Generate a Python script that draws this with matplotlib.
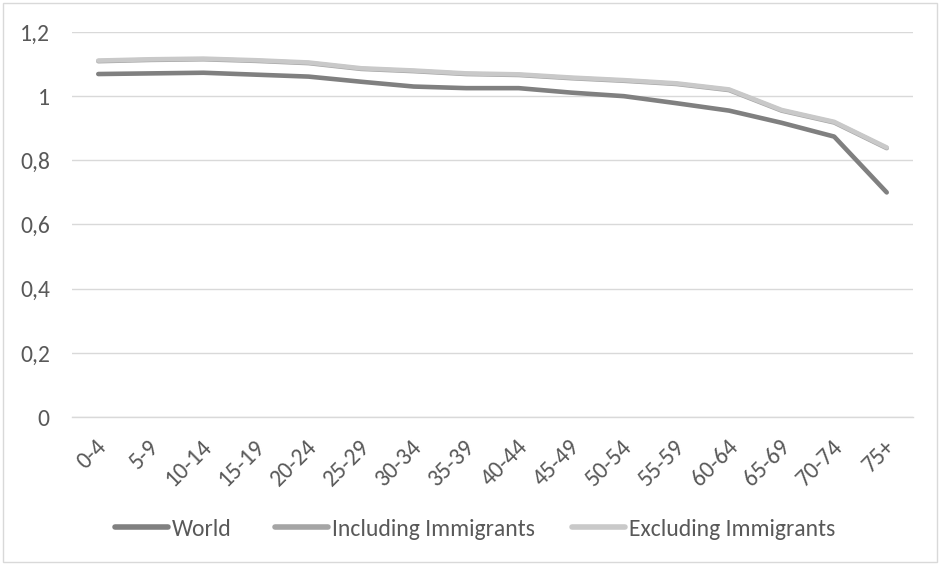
import matplotlib
matplotlib.use("Agg")
import matplotlib.pyplot as plt
from matplotlib.patches import Rectangle
from matplotlib.transforms import ScaledTranslation

plt.rcParams['font.family'] = ['Carlito', 'DejaVu Sans']

ages = ['0-4', '5-9', '10-14', '15-19', '20-24', '25-29', '30-34', '35-39',
        '40-44', '45-49', '50-54', '55-59', '60-64', '65-69', '70-74', '75+']
world = [1.069, 1.071, 1.073, 1.067, 1.061, 1.045, 1.030, 1.025,
         1.025, 1.011, 1.000, 0.978, 0.955, 0.917, 0.874, 0.700]
incl = [1.109, 1.113, 1.115, 1.110, 1.103, 1.085, 1.078, 1.069,
        1.066, 1.056, 1.048, 1.038, 1.019, 0.955, 0.918, 0.838]
excl = [1.111, 1.115, 1.117, 1.112, 1.105, 1.087, 1.080, 1.071,
        1.068, 1.058, 1.050, 1.040, 1.021, 0.957, 0.920, 0.840]
yticks = [0, 0.2, 0.4, 0.6, 0.8, 1.0, 1.2]
ylabels = ['0', '0,2', '0,4', '0,6', '0,8', '1', '1,2']

fs = 17
txt = '#595959'

fig = plt.figure(figsize=(9.4, 5.65), dpi=100)
ax = fig.add_axes([72/940, 148/565, 841/940, 385/565])

x = range(len(ages))
l1, = ax.plot(x, world, color='#808080', lw=3.3, solid_capstyle='round', label='World')
l2, = ax.plot(x, incl, color='#a5a5a5', lw=3.3, solid_capstyle='round', label='Including Immigrants')
l3, = ax.plot(x, excl, color='#c9c9c9', lw=3.3, solid_capstyle='round', label='Excluding Immigrants')

ax.set_xlim(-0.5, len(ages) - 0.5)
ax.set_ylim(0, 1.2)
ax.set_yticks(yticks)
ax.set_yticklabels(ylabels)
ax.set_xticks(list(x))
ax.set_xticklabels(ages, rotation=45, ha='right', va='center', rotation_mode='anchor')
ax.tick_params(axis='both', length=0, labelsize=fs, colors=txt)
ax.tick_params(axis='x', pad=19)
ax.tick_params(axis='y', pad=16)
shift = ScaledTranslation(5/100, 0, fig.dpi_scale_trans)
for lab in ax.get_xticklabels():
    lab.set_transform(lab.get_transform() + shift)
ax.grid(axis='y', color='#d9d9d9', lw=1)
ax.axhline(0, color='#d9d9d9', lw=1, clip_on=False, zorder=0)
ax.set_axisbelow(True)
for s in ax.spines.values():
    s.set_visible(False)

# one legend per entry, placed like the original
for line, xpos in [(l1, 115), (l2, 275), (l3, 572)]:
    leg = fig.legend([line], [line.get_label()], loc='center left',
                     bbox_to_anchor=(xpos/940, 1 - 529/565), frameon=False, fontsize=fs,
                     borderpad=0, borderaxespad=0, handlelength=2.25, handletextpad=0.17)
    leg.get_texts()[0].set_color(txt)
    leg.legend_handles[0].set_linewidth(4)

fig.patches.append(Rectangle((3/940, 3/565), 934/940, 559/565, transform=fig.transFigure,
                             fill=False, edgecolor='#d9d9d9', lw=1))

fig.savefig('out.png', dpi=100)
